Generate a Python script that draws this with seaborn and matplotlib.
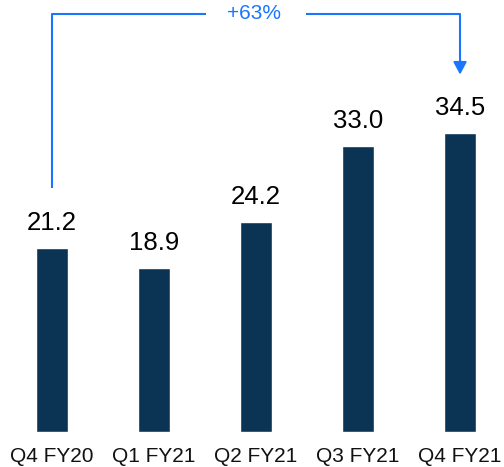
import matplotlib
matplotlib.use("Agg")
import matplotlib.pyplot as plt
import seaborn as sns
import pandas as pd

# datos del grafico
trimestres = ["Q4 FY20", "Q1 FY21", "Q2 FY21", "Q3 FY21", "Q4 FY21"]
valores = [21.2, 18.9, 24.2, 33.0, 34.5]
crecimiento = "+63%"

color_barra = "#0b3454"
color_flecha = "#1a75ff"

sns.set_style("white")
plt.rcParams["font.family"] = ["Liberation Sans", "DejaVu Sans"]

df = pd.DataFrame({"trimestre": trimestres, "valor": valores})

fig = plt.figure(figsize=(5.04, 4.67), dpi=100)
ax = fig.add_axes([0, 35 / 467, 1, 432 / 467])

sns.barplot(data=df, x="trimestre", y="valor", color=color_barra,
            width=0.31, saturation=1, ax=ax)

ax.set_xlim(-0.51, 4.431)
ax.set_ylim(0, 49.8)

# etiquetas de valor sobre cada barra
for i, v in enumerate(valores):
    ax.annotate(f"{v:.1f}", xy=(i, v), xytext=(0, 13), textcoords="offset points",
                ha="center", va="baseline", fontsize=18.5, color="black")

# corchete con flecha entre el primer y el ultimo trimestre
y_top = max(valores) + 13.7
y_ini = valores[0] + 6.9
y_fin = valores[-1] + 6.7
x_ini, x_fin = 0, len(valores) - 1
x_medio = (x_ini + x_fin) / 2

ax.plot([x_ini, x_ini, x_medio - 0.49], [y_ini, y_top, y_top],
        color=color_flecha, lw=1.5, solid_capstyle="butt")
ax.plot([x_medio + 0.49, x_fin, x_fin], [y_top, y_top, y_fin + 1.2],
        color=color_flecha, lw=1.5, solid_capstyle="butt")
ax.annotate("", xy=(x_fin, y_fin), xytext=(x_fin, y_fin + 1.8),
            arrowprops=dict(arrowstyle="-|>,head_length=0.75,head_width=0.4",
                            color=color_flecha, lw=1.5, shrinkA=0, shrinkB=0))
ax.text(x_medio - 0.02, y_top, crecimiento, ha="center", va="center",
        fontsize=15, color=color_flecha)

ax.set_xlabel("")
ax.set_ylabel("")
ax.set_yticks([])
ax.tick_params(axis="x", length=0, pad=11, labelsize=15, labelcolor="#111111")
for s in ax.spines.values():
    s.set_visible(False)

fig.savefig("out.png", dpi=100)
